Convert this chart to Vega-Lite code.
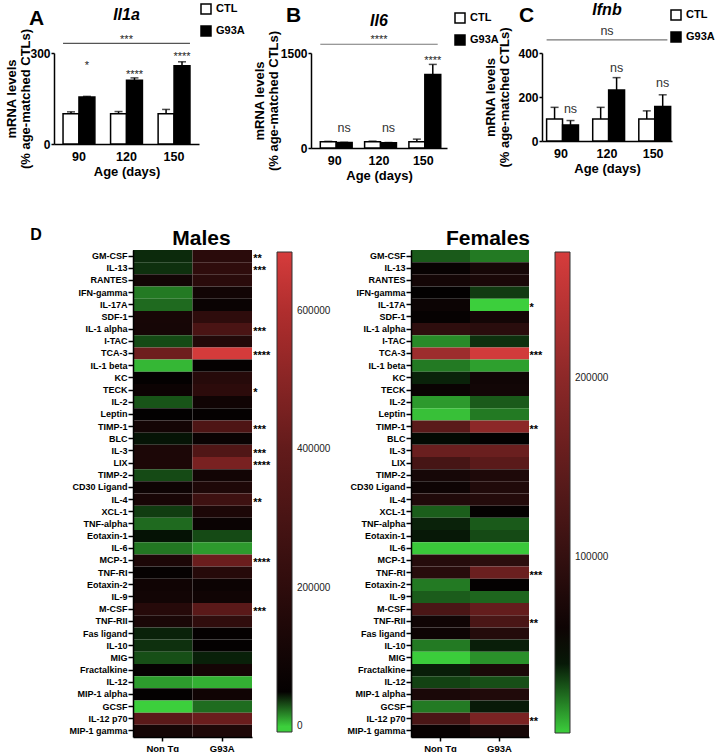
{
  "$schema": "https://vega.github.io/schema/vega-lite/v6.json",
  "padding": {"left": 5, "top": 2, "right": 0, "bottom": 0},
  "config": {
    "font": "Liberation Sans",
    "view": {"stroke": null},
    "axis": {"grid": false, "domainColor": "black", "tickColor": "black", "labelColor": "black", "titleColor": "black"},
    "legend": {"labelColor": "black"}
  },
  "datasets": {
    "il1a": [
      {"age": "90", "group": "CTL", "mean": 100, "upper": 106},
      {"age": "90", "group": "G93A", "mean": 155, "upper": 157},
      {"age": "120", "group": "CTL", "mean": 100, "upper": 107},
      {"age": "120", "group": "G93A", "mean": 210, "upper": 218},
      {"age": "150", "group": "CTL", "mean": 100, "upper": 114},
      {"age": "150", "group": "G93A", "mean": 258, "upper": 271}
    ],
    "il1a_sig": [
      {"age": "90", "group": "G93A", "label": "*", "at": 267},
      {"age": "120", "group": "G93A", "label": "****", "at": 239},
      {"age": "150", "group": "G93A", "label": "****", "at": 298}
    ],
    "il1a_all": [{"gene": "Il1a", "gene_at": 425, "label": "***", "line": 332, "at": 354}],
    "il6": [
      {"age": "90", "group": "CTL", "mean": 100, "upper": 105},
      {"age": "90", "group": "G93A", "mean": 85, "upper": 90},
      {"age": "120", "group": "CTL", "mean": 100, "upper": 108},
      {"age": "120", "group": "G93A", "mean": 82, "upper": 87},
      {"age": "150", "group": "CTL", "mean": 100, "upper": 140},
      {"age": "150", "group": "G93A", "mean": 1160, "upper": 1320}
    ],
    "il6_sig": [
      {"age": "90", "group": "G93A", "label": "ns", "at": 316},
      {"age": "120", "group": "G93A", "label": "ns", "at": 316},
      {"age": "150", "group": "G93A", "label": "****", "at": 1421}
    ],
    "il6_all": [{"gene": "Il6", "gene_at": 2006, "label": "****", "line": 1638, "at": 1749}],
    "ifnb": [
      {"age": "90", "group": "CTL", "mean": 100, "upper": 153},
      {"age": "90", "group": "G93A", "mean": 73, "upper": 93},
      {"age": "120", "group": "CTL", "mean": 100, "upper": 153},
      {"age": "120", "group": "G93A", "mean": 232, "upper": 288},
      {"age": "150", "group": "CTL", "mean": 100, "upper": 137},
      {"age": "150", "group": "G93A", "mean": 157, "upper": 210}
    ],
    "ifnb_sig": [
      {"age": "90", "group": "G93A", "label": "ns", "at": 147},
      {"age": "120", "group": "G93A", "label": "ns", "at": 333},
      {"age": "150", "group": "G93A", "label": "ns", "at": 264}
    ],
    "ifnb_all": [{"gene": "Ifnb", "gene_at": 595, "label": "ns", "line": 460, "at": 499}],
    "males": [
      {"cytokine": "GM-CSF", "Non Tg": 27900, "G93A": 185000, "stars": "**"},
      {"cytokine": "IL-13", "Non Tg": 26900, "G93A": 204000, "stars": "***"},
      {"cytokine": "RANTES", "Non Tg": 100000, "G93A": 185000, "stars": ""},
      {"cytokine": "IFN-gamma", "Non Tg": 14400, "G93A": 100000, "stars": ""},
      {"cytokine": "IL-17A", "Non Tg": 17100, "G93A": 71000, "stars": ""},
      {"cytokine": "SDF-1", "Non Tg": 117000, "G93A": 200000, "stars": ""},
      {"cytokine": "IL-1 alpha", "Non Tg": 114000, "G93A": 308000, "stars": "***"},
      {"cytokine": "I-TAC", "Non Tg": 22500, "G93A": 157000, "stars": ""},
      {"cytokine": "TCA-3", "Non Tg": 430000, "G93A": 680000, "stars": "****"},
      {"cytokine": "IL-1 beta", "Non Tg": 4000, "G93A": 53000, "stars": ""},
      {"cytokine": "KC", "Non Tg": 49000, "G93A": 171000, "stars": ""},
      {"cytokine": "TECK", "Non Tg": 78000, "G93A": 193000, "stars": "*"},
      {"cytokine": "IL-2", "Non Tg": 20800, "G93A": 92000, "stars": ""},
      {"cytokine": "Leptin", "Non Tg": 46000, "G93A": 53000, "stars": ""},
      {"cytokine": "TIMP-1", "Non Tg": 107000, "G93A": 323000, "stars": "***"},
      {"cytokine": "BLC", "Non Tg": 31700, "G93A": 71000, "stars": ""},
      {"cytokine": "IL-3", "Non Tg": 135000, "G93A": 330000, "stars": "***"},
      {"cytokine": "LIX", "Non Tg": 135000, "G93A": 460000, "stars": "****"},
      {"cytokine": "TIMP-2", "Non Tg": 22500, "G93A": 100000, "stars": ""},
      {"cytokine": "CD30 Ligand", "Non Tg": 85000, "G93A": 143000, "stars": ""},
      {"cytokine": "IL-4", "Non Tg": 121000, "G93A": 262000, "stars": "**"},
      {"cytokine": "XCL-1", "Non Tg": 24800, "G93A": 135000, "stars": ""},
      {"cytokine": "TNF-alpha", "Non Tg": 17100, "G93A": 71000, "stars": ""},
      {"cytokine": "Eotaxin-1", "Non Tg": 32000, "G93A": 22500, "stars": ""},
      {"cytokine": "IL-6", "Non Tg": 15000, "G93A": 9000, "stars": ""},
      {"cytokine": "MCP-1", "Non Tg": 135000, "G93A": 420000, "stars": "****"},
      {"cytokine": "TNF-RI", "Non Tg": 57000, "G93A": 171000, "stars": ""},
      {"cytokine": "Eotaxin-2", "Non Tg": 92000, "G93A": 78000, "stars": ""},
      {"cytokine": "IL-9", "Non Tg": 100000, "G93A": 92000, "stars": ""},
      {"cytokine": "M-CSF", "Non Tg": 171000, "G93A": 370000, "stars": "***"},
      {"cytokine": "TNF-RII", "Non Tg": 128000, "G93A": 208000, "stars": ""},
      {"cytokine": "Fas ligand", "Non Tg": 29300, "G93A": 53000, "stars": ""},
      {"cytokine": "IL-10", "Non Tg": 26900, "G93A": 49000, "stars": ""},
      {"cytokine": "MIG", "Non Tg": 21600, "G93A": 29600, "stars": ""},
      {"cytokine": "Fractalkine", "Non Tg": 57000, "G93A": 107000, "stars": ""},
      {"cytokine": "IL-12", "Non Tg": 8600, "G93A": 5300, "stars": ""},
      {"cytokine": "MIP-1 alpha", "Non Tg": 49000, "G93A": 92000, "stars": ""},
      {"cytokine": "GCSF", "Non Tg": 0, "G93A": 16700, "stars": ""},
      {"cytokine": "IL-12 p70", "Non Tg": 370000, "G93A": 420000, "stars": ""},
      {"cytokine": "MIP-1 gamma", "Non Tg": 107000, "G93A": 143000, "stars": ""}
    ],
    "females": [
      {"cytokine": "GM-CSF", "Non Tg": 25900, "G93A": 19000, "stars": ""},
      {"cytokine": "IL-13", "Non Tg": 53500, "G93A": 68000, "stars": ""},
      {"cytokine": "RANTES", "Non Tg": 66000, "G93A": 72500, "stars": ""},
      {"cytokine": "IFN-gamma", "Non Tg": 48000, "G93A": 32700, "stars": ""},
      {"cytokine": "IL-17A", "Non Tg": 57700, "G93A": 1000, "stars": "*"},
      {"cytokine": "SDF-1", "Non Tg": 51000, "G93A": 66000, "stars": ""},
      {"cytokine": "IL-1 alpha", "Non Tg": 93600, "G93A": 89400, "stars": ""},
      {"cytokine": "I-TAC", "Non Tg": 15700, "G93A": 34800, "stars": ""},
      {"cytokine": "TCA-3", "Non Tg": 216000, "G93A": 266000, "stars": "***"},
      {"cytokine": "IL-1 beta", "Non Tg": 19000, "G93A": 11000, "stars": ""},
      {"cytokine": "KC", "Non Tg": 37800, "G93A": 62000, "stars": ""},
      {"cytokine": "TECK", "Non Tg": 55600, "G93A": 64000, "stars": ""},
      {"cytokine": "IL-2", "Non Tg": 12300, "G93A": 25900, "stars": ""},
      {"cytokine": "Leptin", "Non Tg": 4200, "G93A": 19000, "stars": ""},
      {"cytokine": "TIMP-1", "Non Tg": 143000, "G93A": 200000, "stars": "**"},
      {"cytokine": "BLC", "Non Tg": 42900, "G93A": 47000, "stars": ""},
      {"cytokine": "IL-3", "Non Tg": 161000, "G93A": 161000, "stars": ""},
      {"cytokine": "LIX", "Non Tg": 120000, "G93A": 143000, "stars": ""},
      {"cytokine": "TIMP-2", "Non Tg": 68000, "G93A": 76700, "stars": ""},
      {"cytokine": "CD30 Ligand", "Non Tg": 59800, "G93A": 78800, "stars": ""},
      {"cytokine": "IL-4", "Non Tg": 78800, "G93A": 83000, "stars": ""},
      {"cytokine": "XCL-1", "Non Tg": 25000, "G93A": 50000, "stars": ""},
      {"cytokine": "TNF-alpha", "Non Tg": 37800, "G93A": 25900, "stars": ""},
      {"cytokine": "Eotaxin-1", "Non Tg": 39900, "G93A": 29300, "stars": ""},
      {"cytokine": "IL-6", "Non Tg": 2500, "G93A": 2500, "stars": ""},
      {"cytokine": "MCP-1", "Non Tg": 85000, "G93A": 91500, "stars": ""},
      {"cytokine": "TNF-RI", "Non Tg": 87000, "G93A": 161000, "stars": "***"},
      {"cytokine": "Eotaxin-2", "Non Tg": 19000, "G93A": 49000, "stars": ""},
      {"cytokine": "IL-9", "Non Tg": 25500, "G93A": 23300, "stars": ""},
      {"cytokine": "M-CSF", "Non Tg": 125000, "G93A": 154500, "stars": ""},
      {"cytokine": "TNF-RII", "Non Tg": 62000, "G93A": 125000, "stars": "**"},
      {"cytokine": "Fas ligand", "Non Tg": 59800, "G93A": 83000, "stars": ""},
      {"cytokine": "IL-10", "Non Tg": 19000, "G93A": 38600, "stars": ""},
      {"cytokine": "MIG", "Non Tg": 1600, "G93A": 14400, "stars": ""},
      {"cytokine": "Fractalkine", "Non Tg": 38600, "G93A": 72500, "stars": ""},
      {"cytokine": "IL-12", "Non Tg": 31000, "G93A": 28400, "stars": ""},
      {"cytokine": "MIP-1 alpha", "Non Tg": 72500, "G93A": 78800, "stars": ""},
      {"cytokine": "GCSF", "Non Tg": 19000, "G93A": 39500, "stars": ""},
      {"cytokine": "IL-12 p70", "Non Tg": 125000, "G93A": 180000, "stars": "**"},
      {"cytokine": "MIP-1 gamma", "Non Tg": 53500, "G93A": 68000, "stars": ""}
    ],
    "letterD": [{"letter": "D"}]
  },
  "spacing": 44,
  "center": false,
  "resolve": {"scale": {"fill": "independent", "color": "independent"}, "legend": {"fill": "independent", "color": "independent"}},
  "vconcat": [
    {
      "spacing": 8,
      "resolve": {"scale": {"fill": "independent"}, "legend": {"fill": "independent"}},
      "hconcat": [
        {
          "width": 145, "height": 91,
          "title": {"text": "A", "anchor": "start", "frame": "group", "dx": -25, "offset": -26, "fontSize": 21, "fontWeight": "bold", "color": "black"},
          "layer": [
            {
              "data": {"name": "il1a"},
              "mark": {"type": "bar", "stroke": "black", "strokeWidth": 1.5},
              "encoding": {
                "x": {"field": "age", "type": "nominal", "scale": {"domain": ["90", "120", "150"], "paddingInner": 0.33, "paddingOuter": 0.19},
                      "axis": {"title": "Age (days)", "labelAngle": 0, "ticks": false, "domainWidth": 1.5, "labelFontSize": 12.5, "labelFontWeight": "bold", "labelPadding": 6, "titleFontSize": 13, "titleFontWeight": "bold", "titlePadding": 3}},
                "xOffset": {"field": "group", "type": "nominal", "scale": {"domain": ["CTL", "G93A"], "paddingInner": 0, "paddingOuter": 0}},
                "y": {"field": "mean", "type": "quantitative", "scale": {"domain": [0, 300], "nice": false},
                      "axis": {"title": ["mRNA levels", "(% age-matched CTLs)"], "values": [0, 100, 200, 300], "domainWidth": 1.5, "tickWidth": 1.5, "tickSize": 3, "labelFontSize": 12, "labelFontWeight": "bold", "labelPadding": 1, "titleFontSize": 13, "titleFontWeight": "bold", "titlePadding": -3, "titleLineHeight": 14}},
                "fill": {"field": "group", "type": "nominal", "scale": {"domain": ["CTL", "G93A"], "range": ["#ffffff", "#000000"]},
                         "legend": {"orient": "none", "legendX": 146, "legendY": -50, "title": null, "symbolType": "square", "symbolSize": 100, "symbolStrokeColor": "black", "symbolStrokeWidth": 1.5, "labelFontSize": 11, "labelFontWeight": "bold", "labelOffset": 4, "rowPadding": 6}}
              }
            },
            {
              "data": {"name": "il1a"},
              "mark": {"type": "rule", "strokeWidth": 1.5, "color": "black"},
              "encoding": {
                "x": {"field": "age", "type": "nominal"},
                "xOffset": {"field": "group", "type": "nominal"},
                "y": {"field": "mean", "type": "quantitative", "scale": {"domain": [0, 300], "nice": false}},
                "y2": {"field": "upper"}
              }
            },
            {
              "data": {"name": "il1a"},
              "mark": {"type": "tick", "size": 8, "thickness": 1.5, "color": "black"},
              "encoding": {
                "x": {"field": "age", "type": "nominal"},
                "xOffset": {"field": "group", "type": "nominal"},
                "y": {"field": "upper", "type": "quantitative", "scale": {"domain": [0, 300], "nice": false}}
              }
            },
            {
              "data": {"name": "il1a_sig"},
              "mark": {"type": "text", "fontSize": 11, "fill": "#222", "baseline": "middle", "dy": 3},
              "encoding": {
                "x": {"field": "age", "type": "nominal"},
                "xOffset": {"field": "group", "type": "nominal"},
                "y": {"field": "at", "type": "quantitative", "scale": {"domain": [0, 300], "nice": false}},
                "text": {"field": "label"}
              }
            },
            {
              "data": {"name": "il1a_all"},
              "mark": {"type": "rule", "color": "#555", "strokeWidth": 1.2},
              "encoding": {
                "x": {"datum": "90", "bandPosition": 0},
                "x2": {"datum": "150", "bandPosition": 1},
                "y": {"field": "line", "type": "quantitative", "scale": {"domain": [0, 300], "nice": false}}
              }
            },
            {
              "data": {"name": "il1a_all"},
              "mark": {"type": "text", "fontSize": 11, "fill": "#222", "baseline": "middle", "dy": 3},
              "encoding": {
                "x": {"datum": "120"},
                "y": {"field": "at", "type": "quantitative", "scale": {"domain": [0, 300], "nice": false}},
                "text": {"field": "label"}
              }
            },
            {
              "data": {"name": "il1a_all"},
              "mark": {"type": "text", "fontSize": 16, "fontStyle": "italic", "fontWeight": "bold", "fill": "black", "baseline": "middle"},
              "encoding": {
                "x": {"datum": "120"},
                "y": {"field": "gene_at", "type": "quantitative", "scale": {"domain": [0, 300], "nice": false}},
                "text": {"field": "gene"}
              }
            }
          ]
        },
        {
          "spacing": -15,
          "resolve": {"scale": {"fill": "independent"}, "legend": {"fill": "independent"}},
          "hconcat": [
            {
              "width": 136, "height": 95,
              "title": {"text": "B", "anchor": "start", "frame": "group", "dx": -25, "offset": -14, "fontSize": 21, "fontWeight": "bold", "color": "black"},
              "layer": [
                {
                  "data": {"name": "il6"},
                  "mark": {"type": "bar", "stroke": "black", "strokeWidth": 1.5},
                  "encoding": {
                    "x": {"field": "age", "type": "nominal", "scale": {"domain": ["90", "120", "150"], "paddingInner": 0.35, "paddingOuter": 0.21},
                          "axis": {"title": "Age (days)", "labelAngle": 0, "ticks": false, "domainWidth": 1.5, "labelFontSize": 12.5, "labelFontWeight": "bold", "labelPadding": 6, "titleFontSize": 13, "titleFontWeight": "bold", "titlePadding": 3}},
                    "xOffset": {"field": "group", "type": "nominal", "scale": {"domain": ["CTL", "G93A"], "paddingInner": 0, "paddingOuter": 0}},
                    "y": {"field": "mean", "type": "quantitative", "scale": {"domain": [0, 1500], "nice": false},
                          "axis": {"title": ["mRNA levels", "(% age-matched CTLs)"], "values": [0, 500, 1000, 1500], "format": "d", "domainWidth": 1.5, "tickWidth": 1.5, "tickSize": 3, "labelFontSize": 12, "labelFontWeight": "bold", "labelPadding": 1, "titleFontSize": 13, "titleFontWeight": "bold", "titlePadding": 0, "titleLineHeight": 14}},
                    "fill": {"field": "group", "type": "nominal", "scale": {"domain": ["CTL", "G93A"], "range": ["#ffffff", "#000000"]},
                             "legend": {"orient": "none", "legendX": 143, "legendY": -41, "title": null, "symbolType": "square", "symbolSize": 100, "symbolStrokeColor": "black", "symbolStrokeWidth": 1.5, "labelFontSize": 11, "labelFontWeight": "bold", "labelOffset": 4, "rowPadding": 6}}
                  }
                },
                {
                  "data": {"name": "il6"},
                  "mark": {"type": "rule", "strokeWidth": 1.5, "color": "black"},
                  "encoding": {
                    "x": {"field": "age", "type": "nominal"},
                    "xOffset": {"field": "group", "type": "nominal"},
                    "y": {"field": "mean", "type": "quantitative", "scale": {"domain": [0, 1500], "nice": false}},
                    "y2": {"field": "upper"}
                  }
                },
                {
                  "data": {"name": "il6"},
                  "mark": {"type": "tick", "size": 8, "thickness": 1.5, "color": "black"},
                  "encoding": {
                    "x": {"field": "age", "type": "nominal"},
                    "xOffset": {"field": "group", "type": "nominal"},
                    "y": {"field": "upper", "type": "quantitative", "scale": {"domain": [0, 1500], "nice": false}}
                  }
                },
                {
                  "data": {"name": "il6_sig"},
                  "transform": [{"filter": "datum.label != 'ns'"}],
                  "mark": {"type": "text", "fontSize": 11, "fill": "#222", "baseline": "middle", "dy": 3},
                  "encoding": {
                    "x": {"field": "age", "type": "nominal"},
                    "xOffset": {"field": "group", "type": "nominal"},
                    "y": {"field": "at", "type": "quantitative", "scale": {"domain": [0, 1500], "nice": false}},
                    "text": {"field": "label"}
                  }
                },
                {
                  "data": {"name": "il6_sig"},
                  "transform": [{"filter": "datum.label == 'ns'"}],
                  "mark": {"type": "text", "fontSize": 12.5, "fill": "#333", "baseline": "middle"},
                  "encoding": {
                    "x": {"field": "age", "type": "nominal"},
                    "xOffset": {"field": "group", "type": "nominal"},
                    "y": {"field": "at", "type": "quantitative", "scale": {"domain": [0, 1500], "nice": false}},
                    "text": {"field": "label"}
                  }
                },
                {
                  "data": {"name": "il6_all"},
                  "mark": {"type": "rule", "color": "#777", "strokeWidth": 1.2},
                  "encoding": {
                    "x": {"datum": "90", "bandPosition": 0},
                    "x2": {"datum": "150", "bandPosition": 1},
                    "y": {"field": "line", "type": "quantitative", "scale": {"domain": [0, 1500], "nice": false}}
                  }
                },
                {
                  "data": {"name": "il6_all"},
                  "mark": {"type": "text", "fontSize": 11, "fill": "#222", "baseline": "middle", "dy": 3},
                  "encoding": {
                    "x": {"datum": "120"},
                    "y": {"field": "at", "type": "quantitative", "scale": {"domain": [0, 1500], "nice": false}},
                    "text": {"field": "label"}
                  }
                },
                {
                  "data": {"name": "il6_all"},
                  "mark": {"type": "text", "fontSize": 16, "fontStyle": "italic", "fontWeight": "bold", "fill": "black", "baseline": "middle"},
                  "encoding": {
                    "x": {"datum": "120"},
                    "y": {"field": "gene_at", "type": "quantitative", "scale": {"domain": [0, 1500], "nice": false}},
                    "text": {"field": "gene"}
                  }
                }
              ]
            },
            {
              "width": 130, "height": 88,
              "title": {"text": "C", "anchor": "start", "frame": "group", "dx": -23, "offset": -24, "fontSize": 21, "fontWeight": "bold", "color": "black"},
              "layer": [
                {
                  "data": {"name": "ifnb"},
                  "mark": {"type": "bar", "stroke": "black", "strokeWidth": 1.5},
                  "encoding": {
                    "x": {"field": "age", "type": "nominal", "scale": {"domain": ["90", "120", "150"], "paddingInner": 0.38, "paddingOuter": 0.1},
                          "axis": {"title": "Age (days)", "labelAngle": 0, "ticks": false, "domainWidth": 1.5, "labelFontSize": 12.5, "labelFontWeight": "bold", "labelPadding": 6, "titleFontSize": 13, "titleFontWeight": "bold", "titlePadding": 3}},
                    "xOffset": {"field": "group", "type": "nominal", "scale": {"domain": ["CTL", "G93A"], "paddingInner": 0, "paddingOuter": 0}},
                    "y": {"field": "mean", "type": "quantitative", "scale": {"domain": [0, 400], "nice": false},
                          "axis": {"title": ["mRNA levels", "(% age-matched CTLs)"], "values": [0, 100, 200, 300, 400], "domainWidth": 1.5, "tickWidth": 1.5, "tickSize": 3, "labelFontSize": 12, "labelFontWeight": "bold", "labelPadding": 1, "titleFontSize": 13, "titleFontWeight": "bold", "titlePadding": 6, "titleLineHeight": 14}},
                    "fill": {"field": "group", "type": "nominal", "scale": {"domain": ["CTL", "G93A"], "range": ["#ffffff", "#000000"]},
                             "legend": {"orient": "none", "legendX": 128, "legendY": -44, "title": null, "symbolType": "square", "symbolSize": 100, "symbolStrokeColor": "black", "symbolStrokeWidth": 1.5, "labelFontSize": 11, "labelFontWeight": "bold", "labelOffset": 4, "rowPadding": 6}}
                  }
                },
                {
                  "data": {"name": "ifnb"},
                  "mark": {"type": "rule", "strokeWidth": 1.5, "color": "black"},
                  "encoding": {
                    "x": {"field": "age", "type": "nominal"},
                    "xOffset": {"field": "group", "type": "nominal"},
                    "y": {"field": "mean", "type": "quantitative", "scale": {"domain": [0, 400], "nice": false}},
                    "y2": {"field": "upper"}
                  }
                },
                {
                  "data": {"name": "ifnb"},
                  "mark": {"type": "tick", "size": 8, "thickness": 1.5, "color": "black"},
                  "encoding": {
                    "x": {"field": "age", "type": "nominal"},
                    "xOffset": {"field": "group", "type": "nominal"},
                    "y": {"field": "upper", "type": "quantitative", "scale": {"domain": [0, 400], "nice": false}}
                  }
                },
                {
                  "data": {"name": "ifnb_sig"},
                  "mark": {"type": "text", "fontSize": 12.5, "fill": "#333", "baseline": "middle"},
                  "encoding": {
                    "x": {"field": "age", "type": "nominal"},
                    "xOffset": {"field": "group", "type": "nominal"},
                    "y": {"field": "at", "type": "quantitative", "scale": {"domain": [0, 400], "nice": false}},
                    "text": {"field": "label"}
                  }
                },
                {
                  "data": {"name": "ifnb_all"},
                  "mark": {"type": "rule", "color": "#777", "strokeWidth": 1.2},
                  "encoding": {
                    "x": {"datum": "90", "bandPosition": 0},
                    "x2": {"datum": "150", "bandPosition": 1},
                    "y": {"field": "line", "type": "quantitative", "scale": {"domain": [0, 400], "nice": false}}
                  }
                },
                {
                  "data": {"name": "ifnb_all"},
                  "mark": {"type": "text", "fontSize": 12.5, "fill": "#333", "baseline": "middle"},
                  "encoding": {
                    "x": {"datum": "120"},
                    "y": {"field": "at", "type": "quantitative", "scale": {"domain": [0, 400], "nice": false}},
                    "text": {"field": "label"}
                  }
                },
                {
                  "data": {"name": "ifnb_all"},
                  "mark": {"type": "text", "fontSize": 16, "fontStyle": "italic", "fontWeight": "bold", "fill": "black", "baseline": "middle"},
                  "encoding": {
                    "x": {"datum": "120"},
                    "y": {"field": "gene_at", "type": "quantitative", "scale": {"domain": [0, 400], "nice": false}},
                    "text": {"field": "gene"}
                  }
                }
              ]
            }
          ]
        }
      ]
    },
    {
      "spacing": 0,
      "resolve": {"scale": {"color": "independent"}, "legend": {"color": "independent"}},
      "hconcat": [
        {
          "width": 14, "height": 10,
          "data": {"name": "letterD"},
          "mark": {"type": "text", "fontSize": 16, "fontWeight": "bold", "fill": "black", "dx": -25, "dy": -20},
          "encoding": {"text": {"field": "letter"}}
        },
        {
          "spacing": 15,
          "resolve": {"scale": {"color": "independent"}, "legend": {"color": "independent"}},
          "hconcat": [
            {
              "width": 119, "height": 487,
              "title": {"text": "Males", "fontSize": 21, "fontWeight": "bold", "color": "black", "frame": "group", "anchor": "middle", "dx": 9, "offset": 1},
              "layer": [
                {
                  "data": {"name": "males"},
                  "transform": [{"fold": ["Non Tg", "G93A"], "as": ["genotype", "value"]}],
                  "mark": {"type": "rect"},
                  "encoding": {
                    "x": {"field": "genotype", "type": "nominal", "scale": {"domain": ["Non Tg", "G93A"], "paddingInner": 0, "paddingOuter": 0},
                          "axis": {"title": null, "labelAngle": 0, "labelFontSize": 9.5, "labelFontWeight": "bold", "tickSize": 4, "tickWidth": 1.5, "domainWidth": 1.5, "labelPadding": 2}},
                    "y": {"field": "cytokine", "type": "nominal",
                          "scale": {"domain": ["GM-CSF", "IL-13", "RANTES", "IFN-gamma", "IL-17A", "SDF-1", "IL-1 alpha", "I-TAC", "TCA-3", "IL-1 beta", "KC", "TECK", "IL-2", "Leptin", "TIMP-1", "BLC", "IL-3", "LIX", "TIMP-2", "CD30 Ligand", "IL-4", "XCL-1", "TNF-alpha", "Eotaxin-1", "IL-6", "MCP-1", "TNF-RI", "Eotaxin-2", "IL-9", "M-CSF", "TNF-RII", "Fas ligand", "IL-10", "MIG", "Fractalkine", "IL-12", "MIP-1 alpha", "GCSF", "IL-12 p70", "MIP-1 gamma"], "paddingInner": 0, "paddingOuter": 0},
                          "axis": {"title": null, "labelFontSize": 9, "labelFontWeight": "bold", "tickSize": 5, "tickWidth": 1.5, "domainWidth": 1.5, "labelPadding": 1}},
                    "color": {"field": "value", "type": "quantitative",
                              "scale": {"type": "linear", "domain": [-8000, 0, 35000, 200000, 400000, 600000, 685000], "range": ["#3ccf3c", "#3ccf3c", "#000000", "#2e0c0c", "#621b1b", "#b02e2e", "#d63c3c"], "interpolate": "rgb"},
                              "legend": {"orient": "none", "legendX": 144, "legendY": 2, "direction": "vertical", "title": null, "gradientLength": 480, "gradientThickness": 15, "gradientStrokeColor": "#333", "gradientStrokeWidth": 1, "values": [0, 200000, 400000, 600000], "format": "d", "labelFontSize": 10, "labelColor": "#222", "labelOffset": 5, "labelBaseline": "middle", "labelOverlap": false}}
                  }
                },
                {
                  "data": {"name": "males"},
                  "mark": {"type": "text", "align": "left", "dx": 31, "dy": 3, "fontSize": 11, "fontWeight": "bold", "fill": "black", "baseline": "middle"},
                  "encoding": {
                    "x": {"datum": "G93A"},
                    "y": {"field": "cytokine", "type": "nominal"},
                    "text": {"field": "stars"}
                  }
                }
              ]
            },
            {
              "width": 118, "height": 487,
              "title": {"text": "Females", "fontSize": 21, "fontWeight": "bold", "color": "black", "frame": "group", "anchor": "middle", "dx": 18, "offset": 1},
              "layer": [
                {
                  "data": {"name": "females"},
                  "transform": [{"fold": ["Non Tg", "G93A"], "as": ["genotype", "value"]}],
                  "mark": {"type": "rect"},
                  "encoding": {
                    "x": {"field": "genotype", "type": "nominal", "scale": {"domain": ["Non Tg", "G93A"], "paddingInner": 0, "paddingOuter": 0},
                          "axis": {"title": null, "labelAngle": 0, "labelFontSize": 9.5, "labelFontWeight": "bold", "tickSize": 4, "tickWidth": 1.5, "domainWidth": 1.5, "labelPadding": 2}},
                    "y": {"field": "cytokine", "type": "nominal",
                          "scale": {"domain": ["GM-CSF", "IL-13", "RANTES", "IFN-gamma", "IL-17A", "SDF-1", "IL-1 alpha", "I-TAC", "TCA-3", "IL-1 beta", "KC", "TECK", "IL-2", "Leptin", "TIMP-1", "BLC", "IL-3", "LIX", "TIMP-2", "CD30 Ligand", "IL-4", "XCL-1", "TNF-alpha", "Eotaxin-1", "IL-6", "MCP-1", "TNF-RI", "Eotaxin-2", "IL-9", "M-CSF", "TNF-RII", "Fas ligand", "IL-10", "MIG", "Fractalkine", "IL-12", "MIP-1 alpha", "GCSF", "IL-12 p70", "MIP-1 gamma"], "paddingInner": 0, "paddingOuter": 0},
                          "axis": {"title": null, "labelFontSize": 9, "labelFontWeight": "bold", "tickSize": 5, "tickWidth": 1.5, "domainWidth": 1.5, "labelPadding": 1}},
                    "color": {"field": "value", "type": "quantitative",
                              "scale": {"type": "linear", "domain": [1000, 45000, 100000, 200000, 271000], "range": ["#3ccf3c", "#000000", "#341010", "#8c2828", "#d63c3c"], "interpolate": "rgb"},
                              "legend": {"orient": "none", "legendX": 144, "legendY": 2, "direction": "vertical", "title": null, "gradientLength": 481, "gradientThickness": 15, "gradientStrokeColor": "#333", "gradientStrokeWidth": 1, "values": [100000, 200000], "format": "d", "labelFontSize": 10, "labelColor": "#222", "labelOffset": 5, "labelBaseline": "middle", "labelOverlap": false}}
                  }
                },
                {
                  "data": {"name": "females"},
                  "mark": {"type": "text", "align": "left", "dx": 30, "dy": 3, "fontSize": 11, "fontWeight": "bold", "fill": "black", "baseline": "middle"},
                  "encoding": {
                    "x": {"datum": "G93A"},
                    "y": {"field": "cytokine", "type": "nominal"},
                    "text": {"field": "stars"}
                  }
                }
              ]
            }
          ]
        }
      ]
    }
  ]
}
